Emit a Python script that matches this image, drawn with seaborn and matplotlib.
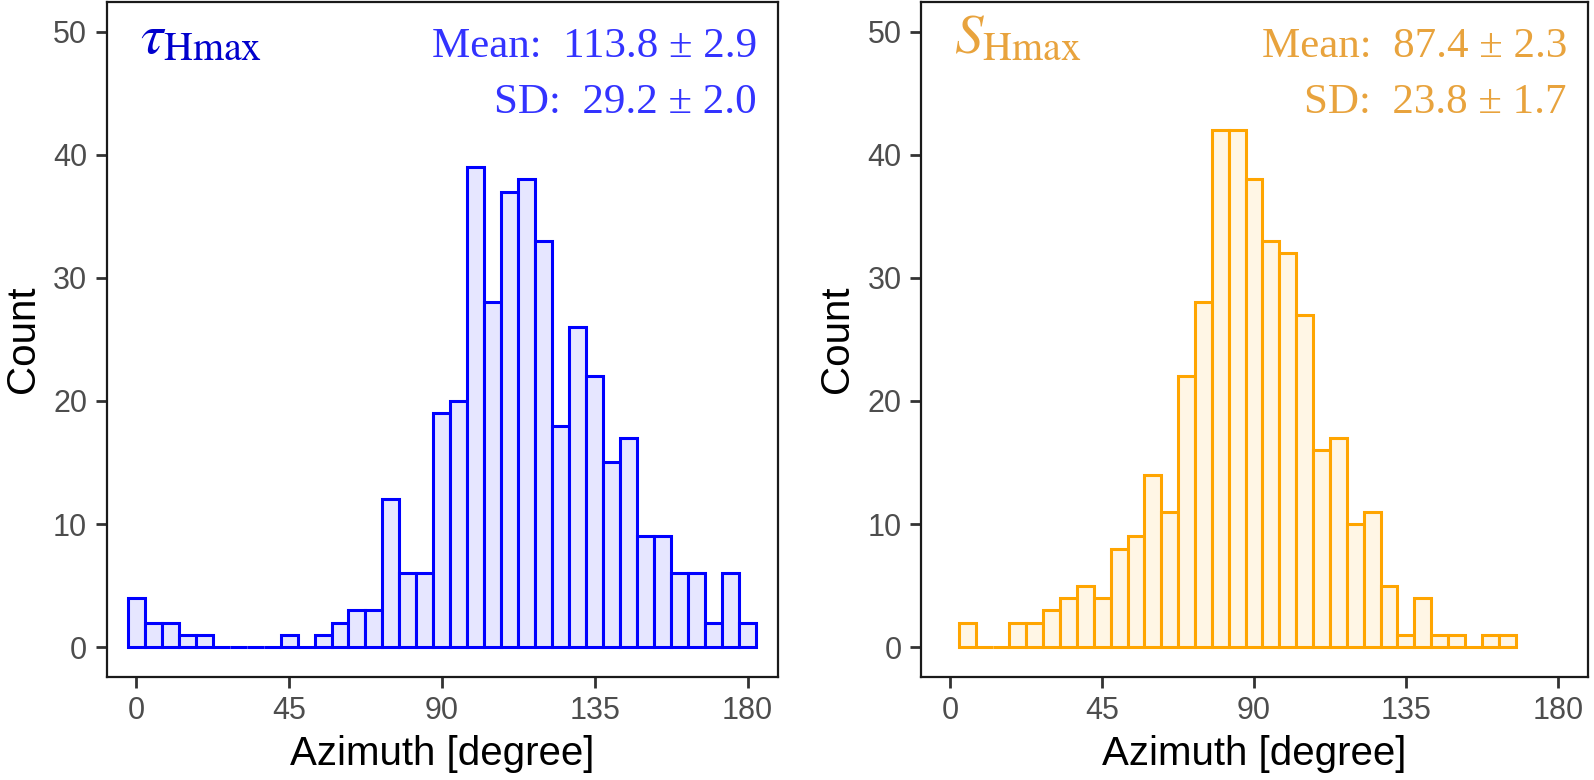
import matplotlib
matplotlib.use("Agg")
import matplotlib.pyplot as plt
import numpy as np
import seaborn as sns

# bin centres (degrees) and counts
tau_centers = list(range(0, 185, 5))
tau_counts = [4, 2, 2, 1, 1, 0, 0, 0, 0, 1, 0, 1, 2, 3, 3, 12, 6, 6, 19, 20,
              39, 28, 37, 38, 33, 18, 26, 22, 15, 17, 9, 9, 6, 6, 2, 6, 2]

s_centers = list(range(5, 170, 5))
s_counts = [2, 0, 0, 2, 2, 3, 4, 5, 4, 8, 9, 14, 11, 22, 28, 42, 42, 38, 33,
            32, 27, 16, 17, 10, 11, 5, 1, 4, 1, 1, 0, 1, 1]

x_ticks = [0, 45, 90, 135, 180]
y_ticks = [0, 10, 20, 30, 40, 50]

panels = [
    dict(centers=tau_centers, counts=tau_counts, edge="#0000FF", face="#E6E6FF",
         label=r"$\tau_{\mathrm{Hmax}}$", label_color="#0000CC",
         stats=["Mean:  113.8 ± 2.9", "SD:  29.2 ± 2.0"], stats_color="#3333FF"),
    dict(centers=s_centers, counts=s_counts, edge="#FFA500", face="#FFF6E5",
         label=r"$S_{\mathrm{Hmax}}$", label_color="#E8A33D",
         stats=["Mean:  87.4 ± 2.3", "SD:  23.8 ± 1.7"], stats_color="#E8A33D"),
]

sns.set_style("ticks")
plt.rcParams["font.family"] = ["Liberation Sans", "DejaVu Sans"]
plt.rcParams["mathtext.fontset"] = "stix"

fig = plt.figure(figsize=(15.94, 7.80), dpi=100)
positions = [[0.0669, 0.1324, 0.4213, 0.8650], [0.5778, 0.1324, 0.4185, 0.8650]]

for pos, p in zip(positions, panels):
    ax = fig.add_axes(pos)
    c = np.array(p["centers"], dtype=float)
    sns.histplot(x=c, weights=p["counts"], binwidth=5,
                 binrange=(c.min() - 2.5, c.max() + 2.5),
                 facecolor=p["face"], edgecolor=p["edge"], linewidth=2.2,
                 alpha=1, ax=ax)
    ax.set_xlim(-8.7, 189.0)
    ax.set_ylim(-2.4, 52.4)
    ax.set_xticks(x_ticks)
    ax.set_yticks(y_ticks)
    ax.tick_params(axis="both", labelsize=22, colors="#333333", labelcolor="#4D4D4D",
                   length=8, width=2, pad=6)
    for sp in ax.spines.values():
        sp.set_visible(True)
        sp.set_color("#1a1a1a")
        sp.set_linewidth(1.6)
    ax.set_xlabel("Azimuth [degree]", fontsize=29, color="black", labelpad=6)
    ax.set_ylabel("Count", fontsize=29, color="black", labelpad=8)

    ax.text(0.05, 0.925, p["label"], transform=ax.transAxes, fontsize=41,
            color=p["label_color"], ha="left", va="baseline")
    ax.text(0.968, 0.918, p["stats"][0], transform=ax.transAxes, fontsize=31,
            color=p["stats_color"], ha="right", va="baseline",
            family=["Liberation Serif", "DejaVu Serif"])
    ax.text(0.968, 0.836, p["stats"][1], transform=ax.transAxes, fontsize=31,
            color=p["stats_color"], ha="right", va="baseline",
            family=["Liberation Serif", "DejaVu Serif"])

fig.savefig("out.png", dpi=100)
